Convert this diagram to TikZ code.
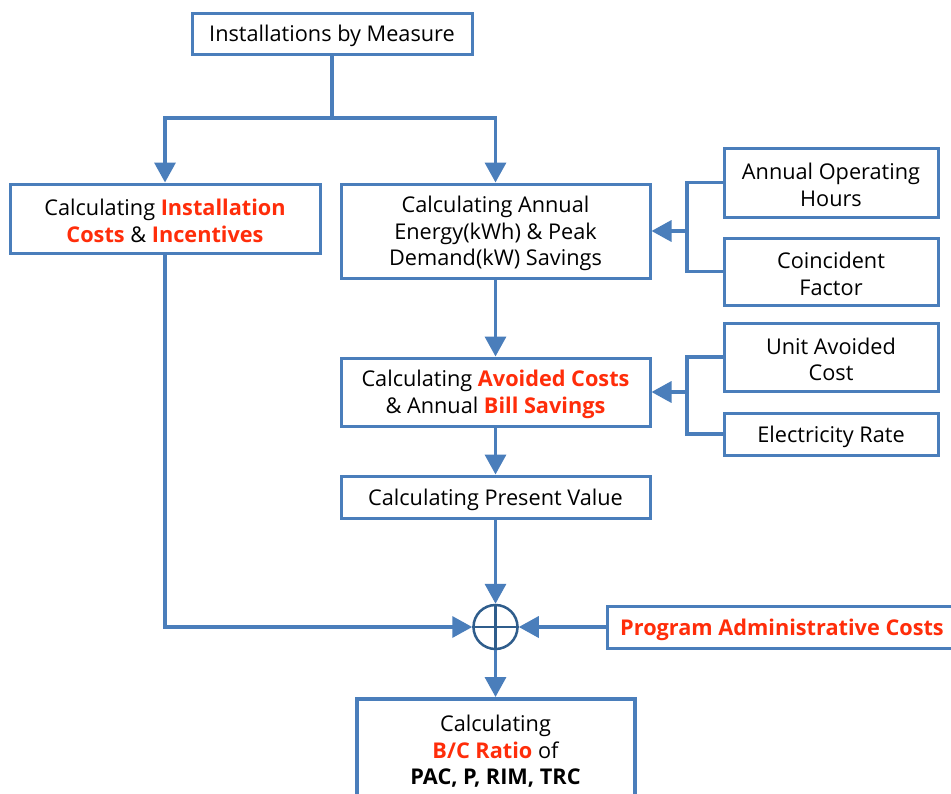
\documentclass[tikz,border=0pt]{standalone}
\usepackage{fontspec}
\setmainfont{Open Sans}
\usetikzlibrary{arrows.meta,calc}
\definecolor{lb}{HTML}{4A7EBB}
\definecolor{cb}{HTML}{2F5D8C}
\definecolor{rd}{HTML}{FF2D0A}
\newcommand{\hl}[1]{\textbf{\color{rd}#1}}
\begin{document}
\begin{tikzpicture}[x=1pt,y=-1pt,
  box/.style={draw=lb,line width=3pt,fill=white,inner sep=0pt},
  txt/.style={align=center,inner sep=0pt,yshift=-2.5pt,font=\fontsize{21.7}{26.5}\selectfont},
  con/.style={draw=lb,line width=3.5pt},
  arr/.style={con,-{Triangle[length=20pt,width=21pt]}}]
\useasboundingbox (0,0) rectangle (951,793);
\fill[white] (0,0) rectangle (951,793);
\clip (0,0) rectangle (951,793);

\node[box,minimum width=280pt,minimum height=41pt] (top) at (332,33.5) {};
\node[txt] (topt) at (top) {Installations by Measure};
\node[box,minimum width=310pt,minimum height=69pt] (left) at (165,218.5) {};
\node[txt] (leftt) at (left) {Calculating \hl{Installation}\\ \hl{Costs} \& \hl{Incentives}};
\node[box,minimum width=309pt,minimum height=94pt] (mid) at (495.5,231) {};
\node[txt] (midt) at (mid) {Calculating Annual\\ Energy(kWh) \& Peak\\ Demand(kW) Savings};
\node[box,minimum width=214pt,minimum height=69pt] (aoh) at (831,182.5) {};
\node[txt] (aoht) at (aoh) {Annual Operating\\ Hours};
\node[box,minimum width=214pt,minimum height=67pt] (cf) at (831,271.5) {};
\node[txt] (cft) at (cf) {Coincident\\ Factor};
\node[box,minimum width=309pt,minimum height=68pt] (avo) at (495.5,392) {};
\node[txt] (avot) at (avo) {Calculating \hl{Avoided Costs}\\ \& Annual \hl{Bill Savings}};
\node[box,minimum width=214pt,minimum height=68pt] (uac) at (831,357) {};
\node[txt] (uact) at (uac) {Unit Avoided\\ Cost};
\node[box,minimum width=214pt,minimum height=42pt] (er) at (831,434) {};
\node[txt] (ert) at (er) {Electricity Rate};
\node[box,minimum width=309pt,minimum height=42pt] (pv) at (495.5,497) {};
\node[txt] (pvt) at (pv) {Calculating Present Value};
\node[box,minimum width=350pt,minimum height=42pt] (pac) at (782,627) {};
\node[txt] (pact) at (pac) {\hl{Program Administrative Costs}};
\node[box,line width=4pt,minimum width=278pt,minimum height=100pt] (bc) at (495.5,749) {};
\node[txt] (bct) at (bc) {Calculating\\ \hl{B/C Ratio} of\\ \textbf{PAC, P, RIM, TRC}};
\node[circle,draw=cb,line width=2.5pt,minimum size=44pt,inner sep=0pt,fill=white] (sum) at (495.5,627) {};
\draw[cb,line width=2.5pt] (sum.north) -- (sum.south) (sum.west) -- (sum.east);

\coordinate (j1) at (332,118);
\coordinate (b1) at (687,231);
\coordinate (b2) at (687,392);

\draw[con] (top.south) -- (j1);
\draw[arr] (j1) -| (left.north);
\draw[arr] (j1) -| (mid.north);
\draw[con] (aoh.west) -| (b1) |- (cf.west);
\draw[arr] (b1) -- (mid.east);
\draw[con] (uac.west) -| (b2) |- (er.west);
\draw[arr] (b2) -- (avo.east);
\draw[arr] (mid.south) -- (avo.north);
\draw[arr] (avo.south) -- (pv.north);
\draw[arr] (pv.south) -- (sum.north);
\draw[arr] (left.south) |- (sum.west);
\draw[arr] (pac.west) -- (sum.east);
\draw[arr] (sum.south) -- (bc.north);
\end{tikzpicture}
\end{document}
